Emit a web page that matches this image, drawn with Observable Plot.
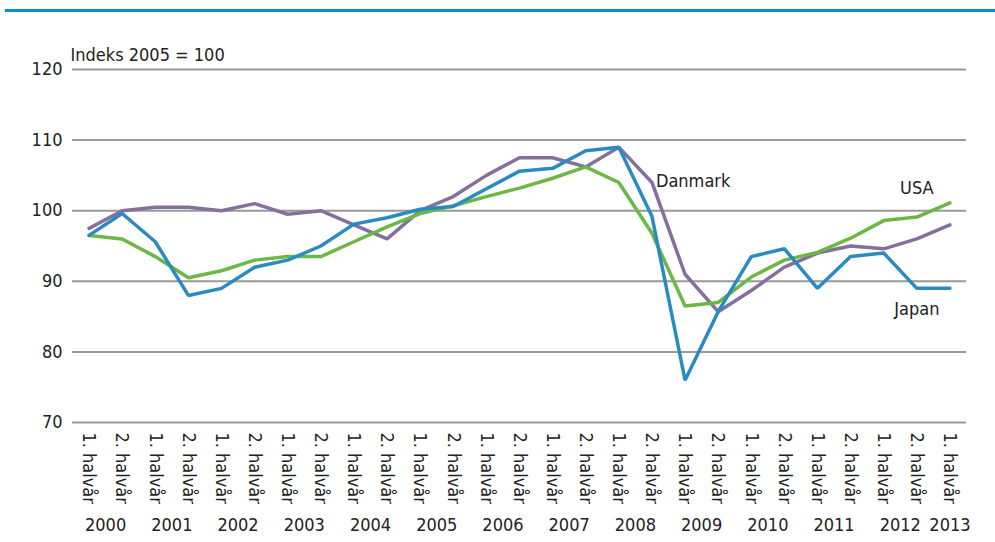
<!DOCTYPE html>
<html>
<head>
<meta charset="utf-8">
<script src="https://cdn.jsdelivr.net/npm/d3@7"></script>
<script src="https://cdn.jsdelivr.net/npm/@observablehq/plot@0.6"></script>
<style>
  html, body { margin: 0; padding: 0; background: #fff; }
  #wrap { position: relative; width: 995px; height: 542px; }
  #topline { position: absolute; left: 5px; top: 9px; width: 990px; height: 3px; background: #0092d4; }
  svg { font-family: "Liberation Sans Narrow", "Arial Narrow", "DejaVu Sans Condensed", sans-serif; }
</style>
</head>
<body>
<div id="wrap"><div id="topline"></div></div>
<script>
const halfLabels = ["1. halvår", "2. halvår"];
const years = [2000,2001,2002,2003,2004,2005,2006,2007,2008,2009,2010,2011,2012,2013];
const periods = d3.range(27); // 2000 H1 .. 2013 H1

const danmark = [97.5,100,100.5,100.5,100,101,99.5,100,98,96,100,102,105,107.5,107.5,106.2,109,104,91,85.7,88.7,92,94,95,94.6,96,98];
const usa     = [96.5,96,93.5,90.5,91.5,93,93.5,93.5,95.6,97.7,99.6,100.7,102,103.2,104.6,106.2,104,96.8,86.5,87,90.6,93,94.1,96.1,98.6,99.1,101.1];
const japan   = [96.5,99.6,95.6,88,89,92,93,95,98.1,99,100.2,100.6,103.1,105.6,106,108.5,109,99.2,76,85.7,93.5,94.6,89,93.5,94,89,89];

const yTicks = [70,80,90,100,110,120];

const rows = [];
const seriesDefs = [["Danmark", danmark], ["USA", usa], ["Japan", japan]];
for (const [name, vals] of seriesDefs) vals.forEach((v, i) => rows.push({series: name, i, value: v}));

const yearRows = years.map((yr, k) => ({year: yr, x: k * 2 + (k * 2 + 1 < periods.length ? 0.5 : 0)}));
const colors = {Danmark: "#84709c", USA: "#6bb845", Japan: "#2a8bc2"};
const pt = (name, i) => rows.find(r => r.series === name && r.i === i);

const chart = Plot.plot({
  width: 995,
  height: 542,
  marginTop: 69,
  marginBottom: 120,
  marginLeft: 72,
  marginRight: 29,
  style: {fontSize: "18px", color: "#222", background: "transparent"},
  x: {domain: [-0.5, 26.5], axis: null},
  y: {domain: [70, 120], axis: null},
  color: {domain: Object.keys(colors), range: Object.values(colors)},
  marks: [
    Plot.gridY(yTicks, {stroke: "#999", strokeOpacity: 1, strokeWidth: 2}),
    Plot.axisY(yTicks, {tickSize: 0, tickPadding: 10, fontSize: 18, label: null}),
    Plot.axisX(periods, {
      tickSize: 0, tickRotate: 90, tickPadding: 10, fontSize: 18, label: null,
      tickFormat: i => halfLabels[i % 2]
    }),
    Plot.text(yearRows, {x: "x", text: d => String(d.year), frameAnchor: "bottom", dy: 108, fontSize: 18, fill: "#222"}),
    Plot.text(["Indeks 2005 = 100"], {frameAnchor: "top-left", text: d => d, textAnchor: "start", dx: -2, dy: -21, fontSize: 18, fill: "#222"}),
    Plot.line(rows, {x: "i", y: "value", z: "series", stroke: "series", strokeWidth: 3.5, strokeLinejoin: "miter"}),
    Plot.text([pt("Danmark", 17)], {x: "i", y: "value", text: "series", textAnchor: "start", dx: 4, dy: -1, fontSize: 18, fill: "#222"}),
    Plot.text([pt("USA", 25)], {x: "i", y: "value", text: "series", dy: -29, fontSize: 18, fill: "#222"}),
    Plot.text([pt("Japan", 25)], {x: "i", y: "value", text: "series", dy: 21, fontSize: 18, fill: "#222"})
  ]
});
document.getElementById("wrap").prepend(chart);
</script>
</body>
</html>
